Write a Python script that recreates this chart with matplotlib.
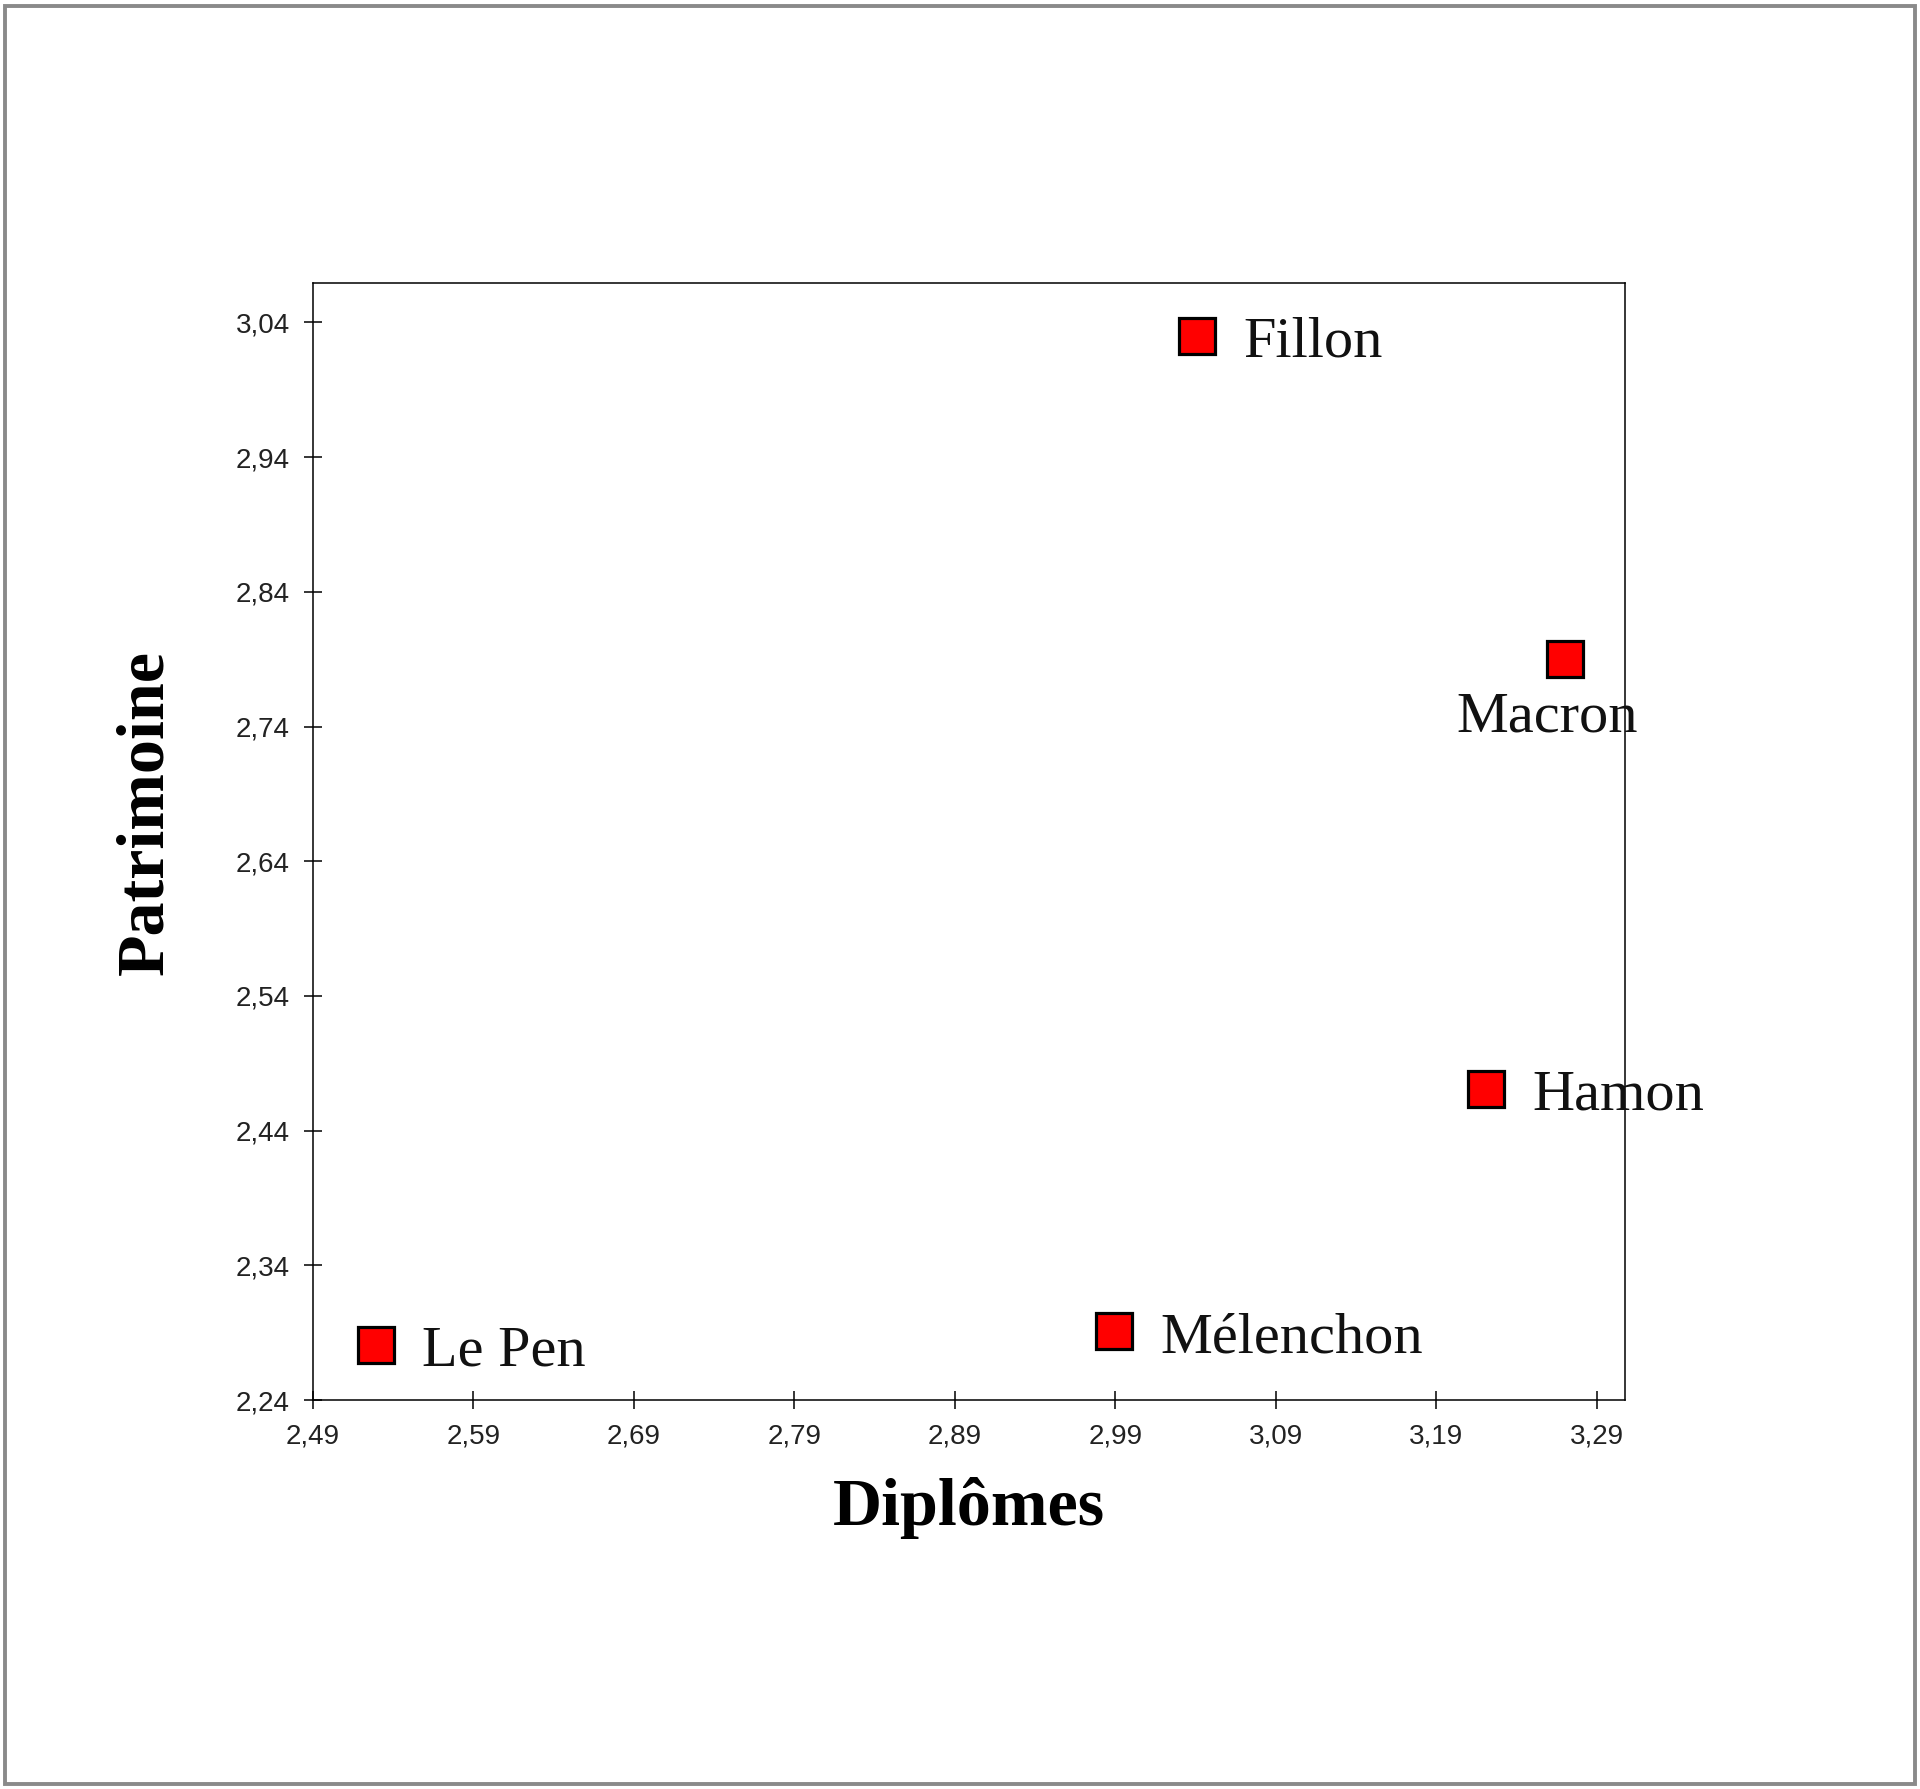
import matplotlib
matplotlib.use("Agg")
import matplotlib.pyplot as plt
from matplotlib.patches import Rectangle

# Data
candidates = ["Fillon", "Macron", "Hamon", "Mélenchon", "Le Pen"]
diplomes = [3.041, 3.270, 3.221, 2.989, 2.529]
patrimoine = [3.030, 2.790, 2.471, 2.291, 2.281]
x_ticks = [2.49, 2.59, 2.69, 2.79, 2.89, 2.99, 3.09, 3.19, 3.29]
y_ticks = [2.24, 2.34, 2.44, 2.54, 2.64, 2.74, 2.84, 2.94, 3.04]
x_label = "Diplômes"
y_label = "Patrimoine"

W, H = 1920, 1789
fig = plt.figure(figsize=(W / 100, H / 100), dpi=100)
fig.patch.set_facecolor("white")

# outer gray frame
fig.patches.append(Rectangle((4.7 / W, 4.7 / H), 1 - 10.2 / W, 1 - 10.2 / H,
                             transform=fig.transFigure, fill=False,
                             edgecolor="#8a8a8a", linewidth=2.8))

ax = fig.add_axes([313 / W, 1 - 1400 / H, (1625 - 313) / W, (1400 - 283) / H])
ax.set_xlim(2.49, 3.3075)
ax.set_ylim(2.24, 3.0693)

for s in ax.spines.values():
    s.set_linewidth(1.1)
    s.set_color("black")

ax.plot(diplomes, patrimoine, linestyle="none", marker="s", markersize=26.5,
        markerfacecolor="#ff0000", markeredgecolor="black", markeredgewidth=2.3,
        zorder=3, clip_on=False)

serif = ["Liberation Serif", "DejaVu Serif"]
for name, x, y in zip(candidates, diplomes, patrimoine):
    if name == "Macron":
        ax.annotate(name, (x, y), xytext=(-12.6, -52), textcoords="offset points",
                    ha="center", va="baseline", fontsize=42, family=serif,
                    color="#111111", annotation_clip=False, zorder=4)
    else:
        ax.annotate(name, (x, y), xytext=(33.5, -15), textcoords="offset points",
                    ha="left", va="baseline", fontsize=42, family=serif,
                    color="#111111", annotation_clip=False, zorder=4)

ax.set_xticks(x_ticks)
ax.set_yticks(y_ticks)
ax.set_xticklabels([f"{v:.2f}".replace(".", ",") for v in x_ticks])
ax.set_yticklabels([f"{v:.2f}".replace(".", ",") for v in y_ticks])
ax.tick_params(axis="both", direction="inout", length=13.5, width=1.1,
               labelsize=20, labelcolor="#222222", pad=10)
for lab in ax.get_xticklabels() + ax.get_yticklabels():
    lab.set_family(["Liberation Sans", "DejaVu Sans"])

fig.text(969 / W, 1 - 1508 / H, x_label, ha="center", va="center",
         fontsize=49, fontweight="bold", family=serif)
fig.text(146 / W, 1 - 813 / H, y_label, ha="center", va="center", rotation=90,
         fontsize=49, fontweight="bold", family=serif)

fig.savefig("out.png", dpi=100, facecolor="white")
